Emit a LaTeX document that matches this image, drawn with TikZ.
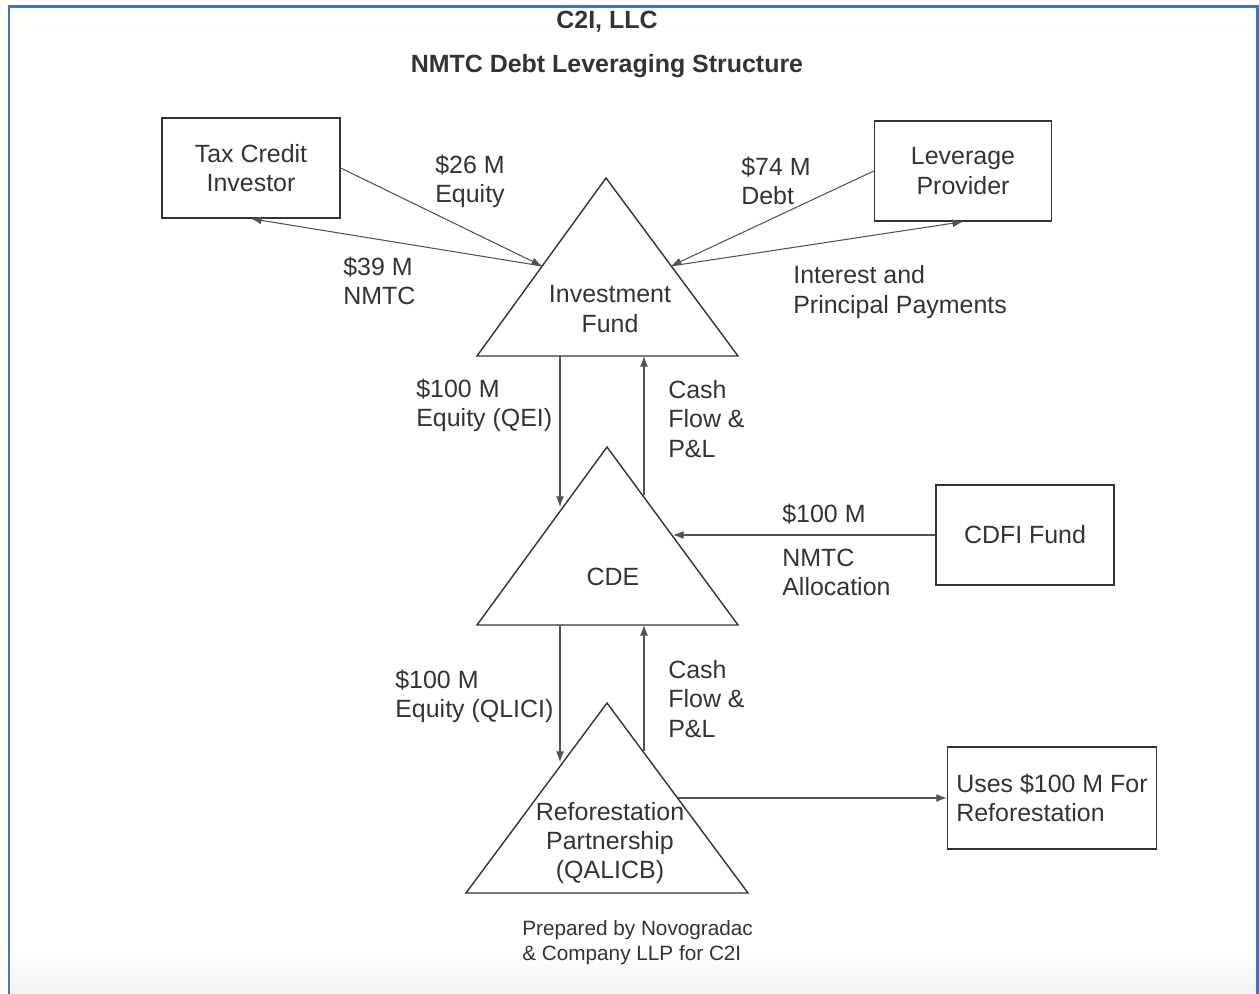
\documentclass[tikz,border=0pt]{standalone}
\usepackage{fontspec}
\setmainfont{Liberation Sans}
\usepackage{tikz,xcolor}
\usetikzlibrary{positioning, arrows.meta}

\definecolor{frameblue}{HTML}{4472C4}
\definecolor{inkgray}{HTML}{333333}
\tikzset{
    entity/.style={draw=inkgray, line width=0.8pt, minimum width=3.56cm, minimum height=2cm, align=center, inner sep=0pt},
    label/.style={align=left, anchor=west, inner sep=0pt},
    flow/.style={draw=inkgray!85, line width=0.6pt, -{Latex[length=6pt,width=4.5pt]}},
    pyramid/.style={draw=inkgray, line width=0.8pt}
}

\begin{document}
\begin{tikzpicture}[x=0.02cm, y=-0.02cm, font=\fontsize{14.2pt}{16.6pt}\selectfont, text=inkgray]
            \useasboundingbox (0,0) rectangle (1259,994);
            \shade[top color=white, bottom color=black!5] (10,950) rectangle (1256,994);
            \draw[frameblue, line width=0.06cm] (9,994) -- (9,6) -- (1257,6) -- (1257,994);

            \node[font=\fontsize{14.2pt}{16.6pt}\selectfont\bfseries] (title 1) at (607,22) {C2I, LLC};
            \node[font=\fontsize{14.2pt}{16.6pt}\selectfont\bfseries] (title 2) at (607,66) {NMTC Debt Leveraging Structure};

            % boxes
            \node[entity]                        (investor) at (251,168)  {Tax Credit\\Investor};
            \node[entity, minimum width=3.54cm]  (leverage) at (963,171)  {Leverage\\Provider};
            \node[entity]                        (cdfi)     at (1025,535) {CDFI Fund};
            \node[entity, align=left, minimum width=4.18cm, minimum height=2.04cm]
                                                 (uses)     at (1052,798) {Uses \$100 M For\\Reforestation};

            % triangles
            \draw[pyramid] (606,178) coordinate (fund apex) -- (738,356) coordinate (fund right) -- (477,356) coordinate (fund left) -- cycle;
            \draw[pyramid] (607,447) coordinate (cde apex)  -- (738,625) coordinate (cde right)  -- (477,625) coordinate (cde left)  -- cycle;
            \draw[pyramid] (607,703) coordinate (ref apex)  -- (748,893) coordinate (ref right)  -- (466,893) coordinate (ref left)  -- cycle;

            \node[align=center] (fund) at (610,309) {Investment\\Fund};
            \node (cde)  at (613,577) {CDE};
            \node[align=center] (ref)  at (610,843) {Reforestation\\Partnership\\(QALICB)};

            % points on the triangle edges
            \coordinate (fund in L)  at (542,266);
            \coordinate (fund in R)  at (671,266);
            \coordinate (fund out D) at (560,356);
            \coordinate (fund in U)  at (644,356);
            \coordinate (cde in L)   at (560,507);
            \coordinate (cde out U)  at (644,495);
            \coordinate (cde in R)   at (673,535);
            \coordinate (cde out D)  at (560,625);
            \coordinate (cde in U)   at (644,625);
            \coordinate (ref in L)   at (560,762);
            \coordinate (ref out U)  at (644,751);
            \coordinate (ref out R)  at (678,798);

            \draw[flow] (investor.east) -- (fund in L);
            \draw[flow] (fund in L) -- (investor.south);
            \draw[flow] (leverage.west) -- (fund in R);
            \draw[flow] (fund in R) -- (leverage.south);
            \draw[flow] (fund out D) -- (cde in L);
            \draw[flow] (cde out U) -- (fund in U);
            \draw[flow] (cdfi.west) -- (cde in R);
            \draw[flow] (cde out D) -- (ref in L);
            \draw[flow] (ref out U) -- (cde in U);
            \draw[flow] (ref out R) -- (uses.west);

            % flow labels
            \node[align=center] (equity 26) at (470,181) {\$26 M\\Equity};
            \node[label] (nmtc 39)     at (343,281) {\$39 M\\NMTC};
            \node[label] (debt 74)     at (741,181) {\$74 M\\Debt};
            \node[label] (payments)    at (793,292) {Interest and\\Principal Payments};
            \node[label] (qei)         at (416,405) {\$100 M\\Equity (QEI)};
            \node[label] (cash 1)      at (668,419) {Cash\\Flow \&\\P\&L};
            \node[label] (alloc 100)   at (782,514) {\$100 M};
            \node[label] (alloc)       at (782,572) {NMTC\\Allocation};
            \node[label] (qlici)       at (395,696) {\$100 M\\Equity (QLICI)};
            \node[label] (cash 2)      at (668,699) {Cash\\Flow \&\\P\&L};

            \node[label, font=\fontsize{11.8pt}{14.2pt}\selectfont] (prepared) at (522,943) {Prepared by Novogradac\\\& Company LLP for C2I};
        \end{tikzpicture}
\end{document}
